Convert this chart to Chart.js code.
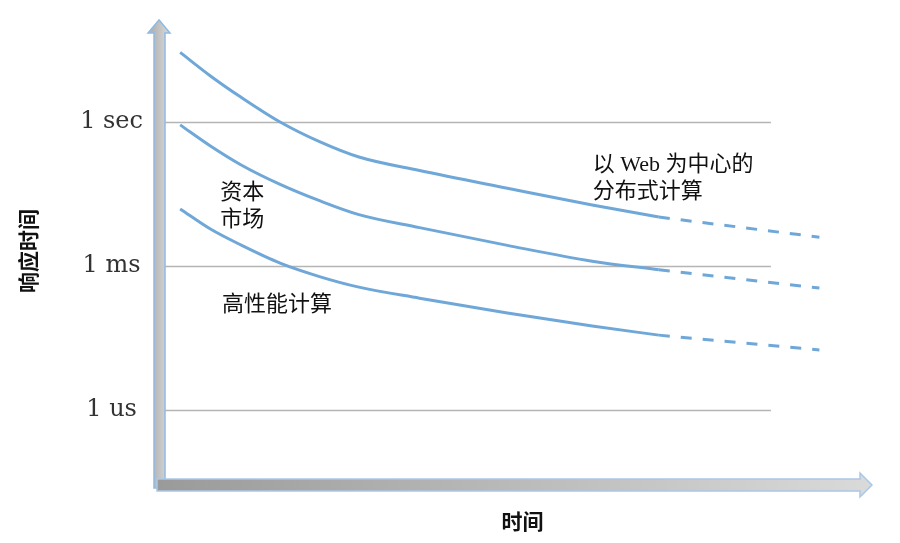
<!DOCTYPE html>
<html>
<head>
<meta charset="utf-8">
<script src="https://cdn.jsdelivr.net/npm/chart.js@4"></script>
<style>
  html, body { margin: 0; padding: 0; background: #fff; }
  #wrap { width: 900px; height: 543px; position: relative; }
</style>
</head>
<body>
<div id="wrap"><canvas id="latencyChart"></canvas></div>
<script>
// time axis positions (arbitrary units, 0 = origin)
const timePoints = [2.5, 7.5, 12.5, 19, 25.5, 32, 42, 56.5, 70.5, 81.5];
const futurePoints = [81.5, 108];

// response time, in log10(seconds): 0 = 1 sec, -3 = 1 ms, -6 = 1 us
const webSolid   = [1.45, 0.96, 0.52, 0, -0.41, -0.73, -1.01, -1.38, -1.73, -1.98];
const webDashed  = [-1.98, -2.4];
const capSolid   = [-0.06, -0.5, -0.89, -1.3, -1.64, -1.93, -2.2, -2.57, -2.9, -3.08];
const capDashed  = [-3.08, -3.46];
const hpcSolid   = [-1.81, -2.23, -2.56, -2.94, -3.22, -3.44, -3.67, -3.98, -4.25, -4.44];
const hpcDashed  = [-4.44, -4.75];

const tickValues = [-6, -3, 0];
const tickLabels = ['1 us', '1 ms', '1 sec'];

// text labels inside the plot, anchored in data units
const notes = [
    { lines: ['资本', '市场'], x: 9.1, y: -1.48 },
    { lines: ['高性能计算'], x: 9.4, y: -3.81 },
    { lines: ['以 Web 为中心的', '分布式计算'], x: 70.6, y: -0.9 }
];
const gridEnd = 100;

const lineColor = '#6fa8d8';
const cjkFont = '"Noto Sans CJK SC", "Noto Sans", sans-serif';

function pts(xs, ys) {
    return xs.map((x, i) => ({ x: x, y: ys[i] }));
}

function solid(xs, ys) {
    return {
        data: pts(xs, ys),
        borderColor: lineColor,
        borderWidth: 3,
        pointRadius: 0,
        cubicInterpolationMode: 'monotone',
        clip: false
    };
}

function dashed(xs, ys) {
    return {
        data: pts(xs, ys),
        borderColor: lineColor,
        borderWidth: 3,
        borderDash: [11, 11],
        pointRadius: 0,
        clip: false
    };
}

// gridlines that stop short of the arrow
const gridPlugin = {
    id: 'shortGrid',
    beforeDatasetsDraw(chart) {
        const { ctx, chartArea, scales } = chart;
        const xEnd = scales.x.getPixelForValue(gridEnd);
        ctx.save();
        ctx.strokeStyle = '#b5b5b5';
        ctx.lineWidth = 1.5;
        tickValues.forEach(v => {
            const y = Math.round(scales.y.getPixelForValue(v)) + 0.5;
            ctx.beginPath();
            ctx.moveTo(chartArea.left, y);
            ctx.lineTo(xEnd, y);
            ctx.stroke();
        });
        ctx.restore();
    }
};

// the two grey block arrows and the in-plot notes
const decorPlugin = {
    id: 'decor',
    afterDatasetsDraw(chart) {
        const { ctx, chartArea } = chart;
        const l = chartArea.left, b = chartArea.bottom, t = chartArea.top;
        ctx.save();

        // vertical arrow
        let g = ctx.createLinearGradient(l - 12, 0, l, 0);
        g.addColorStop(0, '#b4b4b4');
        g.addColorStop(1, '#d0d0d0');
        ctx.beginPath();
        ctx.moveTo(l - 11, b + 6);
        ctx.lineTo(l - 11, t + 13);
        ctx.lineTo(l - 17, t + 13);
        ctx.lineTo(l - 6, t);
        ctx.lineTo(l + 5, t + 13);
        ctx.lineTo(l, t + 13);
        ctx.lineTo(l, b + 6);
        ctx.closePath();
        ctx.fillStyle = g;
        ctx.fill();
        ctx.strokeStyle = '#8fbbe2';
        ctx.lineWidth = 1.5;
        ctx.stroke();

        // horizontal arrow
        const r = chartArea.right - 8;
        g = ctx.createLinearGradient(l - 8, 0, r, 0);
        g.addColorStop(0, '#9a9a9a');
        g.addColorStop(1, '#dadada');
        ctx.beginPath();
        ctx.moveTo(l - 8, b - 3);
        ctx.lineTo(r - 12, b - 3);
        ctx.lineTo(r - 12, b - 9);
        ctx.lineTo(r, b + 3);
        ctx.lineTo(r - 12, b + 15);
        ctx.lineTo(r - 12, b + 9);
        ctx.lineTo(l - 8, b + 9);
        ctx.closePath();
        ctx.fillStyle = g;
        ctx.fill();
        ctx.strokeStyle = '#a9c8e6';
        ctx.stroke();

        // notes
        ctx.fillStyle = '#111';
        ctx.font = '22px "Liberation Serif", ' + cjkFont;
        ctx.textAlign = 'left';
        ctx.textBaseline = 'middle';
        notes.forEach(n => {
            const x = chart.scales.x.getPixelForValue(n.x);
            const y = chart.scales.y.getPixelForValue(n.y);
            n.lines.forEach((s, i) => ctx.fillText(s, x, y + i * 27));
        });
        ctx.restore();
    }
};

document.addEventListener('DOMContentLoaded', () => {
    const ctx = document.getElementById('latencyChart').getContext('2d');
    new Chart(ctx, {
        type: 'line',
        data: {
            datasets: [
                solid(timePoints, webSolid),
                dashed(futurePoints, webDashed),
                solid(timePoints, capSolid),
                dashed(futurePoints, capDashed),
                solid(timePoints, hpcSolid),
                dashed(futurePoints, hpcDashed)
            ]
        },
        options: {
            responsive: true,
            maintainAspectRatio: false,
            animation: false,
            layout: { padding: { top: 20, right: 20, left: 0, bottom: 0 } },
            plugins: {
                legend: { display: false },
                tooltip: { enabled: false }
            },
            scales: {
                x: {
                    type: 'linear',
                    min: 0,
                    max: 118,
                    grid: { display: false },
                    border: { display: false },
                    ticks: { display: false },
                    title: {
                        display: true,
                        text: '时间',
                        color: '#111',
                        font: { family: cjkFont, size: 21, weight: 'bold' },
                        padding: { top: 0, bottom: 9 }
                    },
                    afterFit(scale) {
                        scale.height = 61;
                        scale.paddingLeft = 0;
                        scale.paddingRight = 0;
                    }
                },
                y: {
                    min: -7.5,
                    max: 2.125,
                    grid: { display: false, drawTicks: false },
                    border: { display: false },
                    afterBuildTicks(scale) {
                        scale.ticks = tickValues.map(v => ({ value: v }));
                    },
                    ticks: {
                        padding: 22,
                        crossAlign: 'center',
                        color: '#333',
                        font: { family: '"DejaVu Serif", serif', size: 24 },
                        callback: function(value) {
                            const i = tickValues.indexOf(value);
                            return i >= 0 ? tickLabels[i] : '';
                        }
                    },
                    title: {
                        display: true,
                        text: '响应时间',
                        color: '#111',
                        font: { family: cjkFont, size: 21, weight: 'bold' },
                        padding: { top: 15, bottom: 0 }
                    },
                    afterFit(scale) {
                        scale.width = 165;
                        scale.paddingTop = 0;
                        scale.paddingBottom = 0;
                    }
                }
            }
        },
        plugins: [gridPlugin, decorPlugin]
    });
});
</script>
</body>
</html>
